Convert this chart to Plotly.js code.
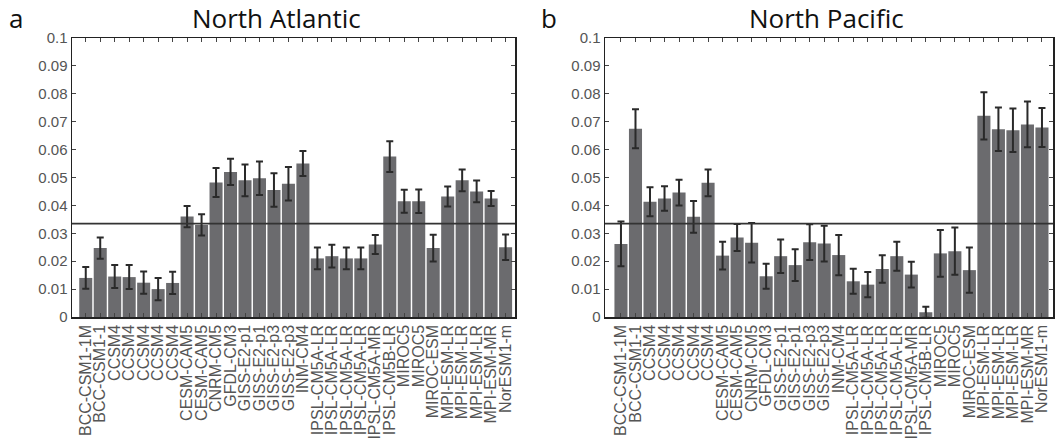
<!DOCTYPE html>
<html>
<head>
<meta charset="utf-8">
<script src="https://cdn.plot.ly/plotly-3.0.1.min.js"></script>
<style>html,body{margin:0;padding:0;background:#fff;}#chart{width:1058px;height:439px;}</style>
</head>
<body>
<div id="chart"></div>
<script>
const models = ["BCC-CSM1-1M","BCC-CSM1-1","CCSM4","CCSM4","CCSM4","CCSM4","CCSM4","CESM-CAM5","CESM-CAM5","CNRM-CM5","GFDL-CM3","GISS-E2-p1","GISS-E2-p1","GISS-E2-p3","GISS-E2-p3","INM-CM4","IPSL-CM5A-LR","IPSL-CM5A-LR","IPSL-CM5A-LR","IPSL-CM5A-LR","IPSL-CM5A-MR","IPSL-CM5B-LR","MIROC5","MIROC5","MIROC-ESM","MPI-ESM-LR","MPI-ESM-LR","MPI-ESM-LR","MPI-ESM-MR","NorESM1-m"];

const atlanticValues = [0.0140,0.0247,0.0145,0.0143,0.0123,0.0100,0.0122,0.0360,0.0330,0.0482,0.0520,0.0490,0.0497,0.0455,0.0478,0.0550,0.0210,0.0218,0.0210,0.0210,0.0260,0.0575,0.0415,0.0415,0.0247,0.0432,0.0490,0.0450,0.0425,0.0250];
const atlanticErrors = [0.0039,0.0038,0.0041,0.0043,0.0040,0.0040,0.0040,0.0038,0.0038,0.0052,0.0047,0.0057,0.0060,0.0060,0.0060,0.0045,0.0039,0.0041,0.0039,0.0039,0.0034,0.0055,0.0041,0.0042,0.0048,0.0036,0.0039,0.0039,0.0027,0.0046];

const pacificValues = [0.0262,0.0675,0.0413,0.0425,0.0446,0.0359,0.0481,0.0220,0.0285,0.0266,0.0146,0.0218,0.0186,0.0268,0.0263,0.0222,0.0128,0.0116,0.0172,0.0218,0.0152,0.0017,0.0228,0.0236,0.0168,0.0721,0.0673,0.0669,0.0690,0.0679];
const pacificErrors = [0.0080,0.0070,0.0052,0.0044,0.0046,0.0057,0.0048,0.0050,0.0048,0.0071,0.0045,0.0060,0.0057,0.0064,0.0064,0.0072,0.0045,0.0045,0.0049,0.0052,0.0046,0.0020,0.0084,0.0085,0.0081,0.0085,0.0078,0.0078,0.0082,0.0070];

const referenceLevel = 0.0335;
const yTickVals = [0,0.01,0.02,0.03,0.04,0.05,0.06,0.07,0.08,0.09,0.1];
const yTickText = ["0","0.01","0.02","0.03","0.04","0.05","0.06","0.07","0.08","0.09","0.1"];
const panelTitles = ["North Atlantic","North Pacific"];
const panelLetters = ["a","b"];

const positions = models.map((m,i)=>i+1);

const barColor = "#6b6b6e";
const errColor = "#2a2a2a";

function barTrace(vals, errs, xa, ya){
  return {
    type:"bar", x:positions, y:vals, xaxis:xa, yaxis:ya,
    marker:{color:barColor, line:{width:0}},
    error_y:{type:"data", array:errs, visible:true, color:errColor, thickness:2, width:3.5},
    hoverinfo:"skip", showlegend:false
  };
}

const data = [
  barTrace(atlanticValues, atlanticErrors, "x", "y"),
  barTrace(pacificValues, pacificErrors, "x2", "y2")
];

const tickFont = {family:"Liberation Sans, Arial, sans-serif", size:15, color:"#555"};
const xTickFont = {family:"Liberation Sans, Arial, sans-serif", size:16, color:"#555"};

function xAxis(domain, range, anchor){
  return {
    domain:domain, range:range, anchor:anchor,
    tickmode:"array", tickvals:positions, ticktext:models, tickangle:-90,
    ticks:"inside", ticklen:4, tickcolor:"#444", tickwidth:1,
    showline:true, linecolor:"#222", linewidth:1.5, mirror:"ticks",
    showgrid:false, zeroline:false, tickfont:xTickFont, fixedrange:true
  };
}
function yAxis(anchor){
  return {
    domain:[1-317/439, 1-38/439], range:[0,0.1], anchor:anchor,
    tickmode:"array", tickvals:yTickVals, ticktext:yTickText,
    ticks:"inside", ticklen:4, tickcolor:"#444", tickwidth:1,
    showline:true, linecolor:"#222", linewidth:1.5, mirror:"ticks",
    showgrid:false, zeroline:false, tickfont:tickFont, fixedrange:true
  };
}

const W = 1058;
const titleFont = {family:"Open Sans, sans-serif", size:26, color:"#111"};
const layout = {
  width:W, height:439,
  margin:{l:0,r:0,t:0,b:0},
  paper_bgcolor:"#fff", plot_bgcolor:"#fff",
  bargap:0.1,
  xaxis: xAxis([72/W, 515/W], [0.05, 30.65], "y"),
  yaxis: yAxis("x"),
  xaxis2: xAxis([605/W, 1053/W], [-0.1, 30.76], "y2"),
  yaxis2: yAxis("x2"),
  shapes:[
    {type:"line", xref:"x domain", yref:"y", x0:0, x1:1, y0:referenceLevel, y1:referenceLevel, line:{color:"#333", width:1.8}},
    {type:"line", xref:"x2 domain", yref:"y2", x0:0, x1:1, y0:referenceLevel, y1:referenceLevel, line:{color:"#333", width:1.8}}
  ],
  annotations:[
    {text:panelTitles[0], xref:"paper", yref:"paper", x:276/W, y:1-18/439, xanchor:"center", yanchor:"middle", showarrow:false, font:titleFont},
    {text:panelTitles[1], xref:"paper", yref:"paper", x:826/W, y:1-18/439, xanchor:"center", yanchor:"middle", showarrow:false, font:titleFont},
    {text:panelLetters[0], xref:"paper", yref:"paper", x:16/W, y:1-18/439, xanchor:"center", yanchor:"middle", showarrow:false, font:titleFont},
    {text:panelLetters[1], xref:"paper", yref:"paper", x:549/W, y:1-18/439, xanchor:"center", yanchor:"middle", showarrow:false, font:titleFont}
  ]
};

Plotly.newPlot("chart", data, layout, {displayModeBar:false, staticPlot:true});
</script>
</body>
</html>
